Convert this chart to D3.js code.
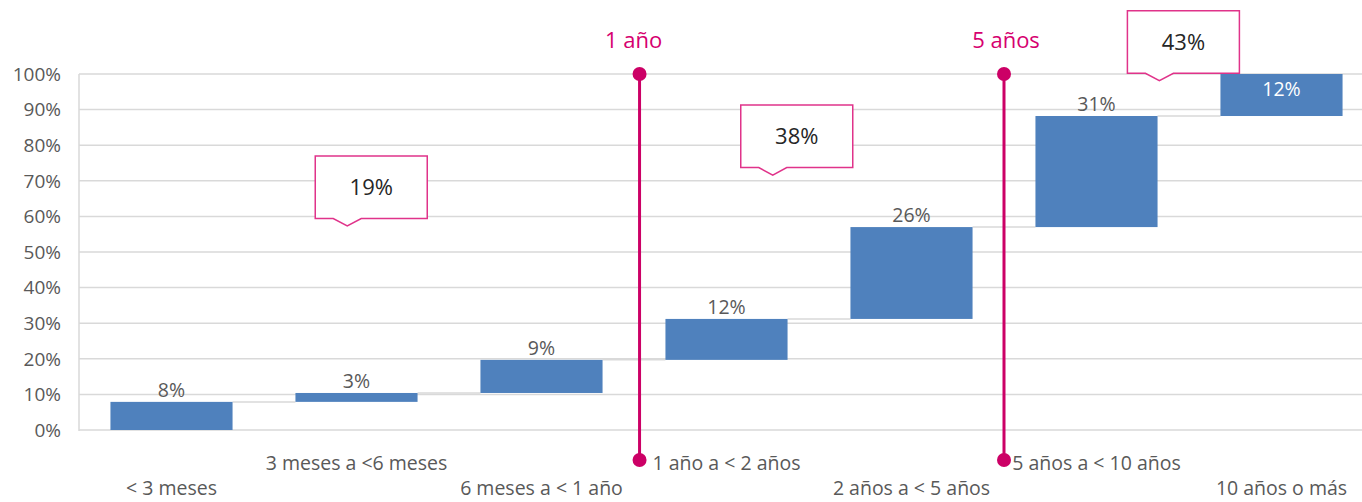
<!DOCTYPE html>
<html><head><meta charset="utf-8">
<script src="https://cdn.jsdelivr.net/npm/d3@7"></script>
<style>body{margin:0;background:#fff;}svg{display:block;font-family:"Open Sans","Segoe UI",sans-serif;}</style>
</head><body><svg id="c" width="1362" height="502"></svg>
<script>
const categories = ["< 3 meses","3 meses a <6 meses","6 meses a < 1 año","1 año a < 2 años","2 años a < 5 años","5 años a < 10 años","10 años o más"];
const values = [7.9, 2.5, 9.3, 11.5, 25.8, 31.2, 11.8];
const valueLabels = ["8%","3%","9%","12%","26%","31%","12%"];
const yTicks = [0,10,20,30,40,50,60,70,80,90,100];
const markerNames = ["1 año","5 años"];
const markerPos = [2.53, 4.5];
const calloutText = ["19%","38%","43%"];
const calloutX = [0.95, 3.25, 5.34];
const calloutY = [57.3, 71.6, 98.1];

const svg = d3.select("#c");
const L = 79, R = 1374, T = 74, B = 430;
const x = d3.scaleBand().domain(categories).range([L, R]).paddingInner(0.34).paddingOuter(0.17);
const y = d3.scaleLinear().domain([0,100]).range([B, T]);
const xi = d3.scaleLinear().domain([0,1]).range([x(categories[0])+x.bandwidth()/2, x(categories[1])+x.bandwidth()/2]);

svg.append("g").selectAll("line").data(yTicks).join("line")
  .attr("x1", L).attr("x2", 1362).attr("y1", d=>y(d)).attr("y2", d=>y(d))
  .attr("stroke", "#d9d9d9").attr("stroke-width", 1.5);
svg.append("line").attr("x1", L).attr("x2", L).attr("y1", T).attr("y2", B+1).attr("stroke","#d9d9d9").attr("stroke-width",1.5);

svg.append("g").selectAll("text").data(yTicks).join("text")
  .attr("x", 61).attr("y", d=>y(d)).attr("dy","0.36em").attr("text-anchor","end")
  .attr("fill","#595959").attr("font-size",19).text(d=>d+"%");

let cum = 0;
const data = values.map((v,i)=>{const o={c:categories[i],v,start:cum,end:cum+v,lab:valueLabels[i]};cum+=v;return o;});

svg.append("g").selectAll("line").data(data.slice(0,-1)).join("line")
  .attr("x1", d=>x(d.c)+x.bandwidth()).attr("x2",(d,i)=>x(categories[i+1]))
  .attr("y1", d=>y(d.end)).attr("y2", d=>y(d.end))
  .attr("stroke","#d9d9d9").attr("stroke-width",1.5);

svg.append("g").selectAll("rect").data(data).join("rect")
  .attr("x", d=>x(d.c)).attr("width", x.bandwidth())
  .attr("y", d=>y(d.end)).attr("height", d=>y(d.start)-y(d.end))
  .attr("fill","#4f81bd");

svg.append("g").selectAll("text").data(data).join("text")
  .attr("x", d=>x(d.c)+x.bandwidth()/2)
  .attr("y", (d,i)=> i===data.length-1 ? y(d.end)+22 : y(d.end)-5)
  .attr("text-anchor","middle").attr("font-size",19.5)
  .attr("fill",(d,i)=> i===data.length-1 ? "#fff" : "#595959").text(d=>d.lab);

svg.append("g").selectAll("text").data(categories).join("text")
  .attr("x", d=>x(d)+x.bandwidth()/2).attr("y",(d,i)=> i%2===0 ? 495 : 470)
  .attr("text-anchor","middle").attr("font-size",19.5).attr("fill","#595959").text(d=>d);

const labelShift = [-6, 2];
const mg = svg.append("g").selectAll("g").data(markerNames).join("g");
mg.append("line").attr("x1",(d,i)=>xi(markerPos[i])).attr("x2",(d,i)=>xi(markerPos[i]))
  .attr("y1", y(100)).attr("y2", 460).attr("stroke","#cc0066").attr("stroke-width",3);
mg.append("circle").attr("cx",(d,i)=>xi(markerPos[i])).attr("cy",y(100)).attr("r",7).attr("fill","#cc0066");
mg.append("circle").attr("cx",(d,i)=>xi(markerPos[i])).attr("cy",460).attr("r",7).attr("fill","#cc0066");
mg.append("text").attr("x",(d,i)=>xi(markerPos[i])+labelShift[i]).attr("y",48).attr("text-anchor","middle")
  .attr("font-size",22).attr("fill","#d6006f").text(d=>d);

const bw = 112, bh = 62.5;
const cg = svg.append("g").selectAll("g").data(calloutText).join("g");
cg.append("path").attr("d",(d,i)=>{
  const tx = xi(calloutX[i]), ty = y(calloutY[i]);
  const bb = ty-7.5, left = tx-32, top = bb-bh;
  return `M${left},${top}H${left+bw}V${bb}H${tx+14}L${tx},${ty}L${tx-14},${bb}H${left}Z`;
}).attr("fill","#fff").attr("stroke","#e0338a").attr("stroke-width",1.5);
cg.append("text").attr("x",(d,i)=>xi(calloutX[i])-32+bw/2).attr("y",(d,i)=>y(calloutY[i])-7.5-bh/2)
  .attr("dy","0.35em").attr("text-anchor","middle").attr("font-size",22).attr("fill","#262626").text(d=>d);
</script></body></html>
